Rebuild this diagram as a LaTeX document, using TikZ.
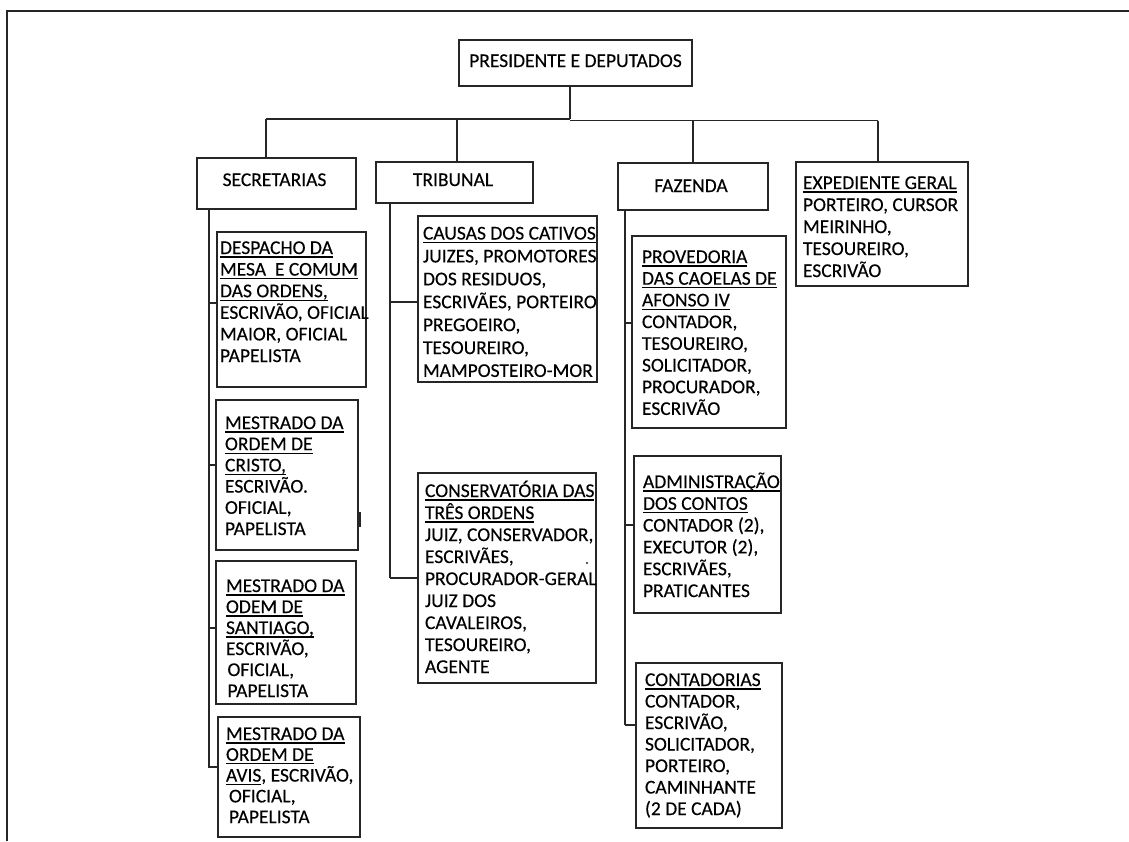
\documentclass[tikz,border=0pt]{standalone}
\usepackage{fontspec}
\setmainfont{Carlito}[FakeBold=0.3]
\newcommand\firstl{\rule{0pt}{18pt}}
\newcommand\ulin[1]{\setbox0\hbox{#1}\rlap{\rule[-3.6pt]{\wd0}{1.2pt}}\box0}
\begin{document}
\begin{tikzpicture}[x=1pt,y=-1pt,
  ln/.style={line width=1.3pt, draw=black!85},
  bx/.style={ln, rectangle, inner sep=0pt, outer sep=0pt, anchor=north west},
  tx/.style={inner sep=0pt, outer sep=0pt, anchor=north west, align=left, text=black},
  ttl/.style={inner sep=0pt, outer sep=0pt, anchor=base, text=black, font=\fontsize{19.5}{22}\selectfont}]
\useasboundingbox (0,0) rectangle (1129,841);
% frame
\draw[ln] (7,841) -- (7,11) -- (1129,11);

% boxes
\node[bx, minimum width=233pt, minimum height=46pt] (pres) at (459,40) {};
\node[bx, minimum width=159pt, minimum height=51pt] (sec) at (197,158) {};
\node[bx, minimum width=157pt, minimum height=41pt] (trib) at (376,162) {};
\node[bx, minimum width=150pt, minimum height=47pt] (faz) at (618,163) {};
\node[bx, minimum width=172pt, minimum height=124pt] (exp) at (796,162) {};
\node[bx, minimum width=149pt, minimum height=155pt] (desp) at (217,232) {};
\node[bx, minimum width=142pt, minimum height=150pt] (cristo) at (216,400) {};
\node[bx, minimum width=140pt, minimum height=143pt] (sant) at (216,561) {};
\node[bx, minimum width=142pt, minimum height=120pt] (avis) at (218,717) {};
\node[bx, minimum width=179pt, minimum height=166pt] (causas) at (418,216) {};
\node[bx, minimum width=178pt, minimum height=210pt] (cons) at (418,473) {};
\node[bx, minimum width=154pt, minimum height=192pt] (prov) at (632,236) {};
\node[bx, minimum width=147pt, minimum height=157pt] (adm) at (634,456) {};
\node[bx, minimum width=146pt, minimum height=165pt] (cont) at (636,663) {};

% titles
\node[ttl] (prest) at (575.5,67) {PRESIDENTE E DEPUTADOS};
\node[ttl] (sect) at (274.5,186) {SECRETARIAS};
\node[ttl] (tribt) at (453,186) {TRIBUNAL};
\node[ttl] (fazt) at (691,192) {FAZENDA};

% texts
\node[tx, font=\fontsize{19.5}{22}\selectfont] (expt) at (803,171)
  {\firstl\ulin{EXPEDIENTE GERAL}\\PORTEIRO, CURSOR\\MEIRINHO,\\TESOUREIRO,\\ESCRIVÃO};
\node[tx, font=\fontsize{19.5}{21.6}\selectfont] (despt) at (220,236)
  {\firstl\ulin{DESPACHO DA}\\\ulin{MESA\ \ E COMUM}\\\ulin{DAS ORDENS,}\\ESCRIVÃO, OFICIAL\\MAIOR, OFICIAL\\PAPELISTA};
\node[tx, font=\fontsize{19.5}{21.2}\selectfont] (cristot) at (225,411)
  {\firstl\ulin{MESTRADO DA}\\\ulin{ORDEM DE}\\\ulin{CRISTO,}\\ESCRIVÃO.\\OFICIAL,\\PAPELISTA};
\node[tx, font=\fontsize{19.5}{21}\selectfont] (santt) at (226,574)
  {\firstl\ulin{MESTRADO DA}\\\ulin{ODEM DE}\\\ulin{SANTIAGO,}\\ESCRIVÃO,\\\hspace{1.5pt}OFICIAL,\\\hspace{1.5pt}PAPELISTA};
\node[tx, font=\fontsize{19.5}{20.8}\selectfont] (avist) at (226,722)
  {\firstl\ulin{MESTRADO DA}\\\ulin{ORDEM DE}\\\ulin{AVIS}, ESCRIVÃO,\\\hspace{3pt}OFICIAL,\\\hspace{3pt}PAPELISTA};
\begin{scope}
\clip (causas.north west) rectangle (causas.south east);
\node[tx, font=\fontsize{19.5}{22.9}\selectfont] (causast) at (423,221.5)
  {\firstl\ulin{CAUSAS DOS CATIVOS}\\JUIZES, PROMOTORES\\DOS RESIDUOS,\\ESCRIVÃES, PORTEIRO\\PREGOEIRO,\\TESOUREIRO,\\MAMPOSTEIRO-MOR};
\end{scope}
\node[tx, font=\fontsize{19.5}{22}\selectfont] (const) at (425,479)
  {\firstl\ulin{CONSERVATÓRIA DAS}\\\ulin{TRÊS ORDENS}\\JUIZ, CONSERVADOR,\\ESCRIVÃES,\\PROCURADOR-GERAL\\JUIZ DOS\\CAVALEIROS,\\TESOUREIRO,\\AGENTE};
\node[tx, font=\fontsize{19.5}{21.7}\selectfont] (provt) at (642,245)
  {\firstl\ulin{PROVEDORIA}\\\ulin{DAS CAOELAS DE}\\\ulin{AFONSO IV}\\CONTADOR,\\TESOUREIRO,\\SOLICITADOR,\\PROCURADOR,\\ESCRIVÃO};
\node[tx, font=\fontsize{19.5}{21.8}\selectfont] (admt) at (643,470)
  {\firstl\ulin{ADMINISTRAÇÃO}\\\ulin{DOS CONTOS}\\CONTADOR (2),\\EXECUTOR (2),\\ESCRIVÃES,\\PRATICANTES};
\node[tx, font=\fontsize{19.5}{21.5}\selectfont] (contt) at (645,668)
  {\firstl\ulin{CONTADORIAS}\\CONTADOR,\\ESCRIVÃO,\\SOLICITADOR,\\PORTEIRO,\\CAMINHANTE\\(2 DE CADA)};

% bus
\coordinate (busL) at (266,119);
\coordinate (busM) at (570,119);
\coordinate (busM2) at (570,120.5);
\coordinate (busR) at (878,120.5);
\coordinate (tribX) at (457,119);
\coordinate (fazX) at (693,120.5);
\draw[ln] (pres.south -| busM) -- (busM);
\draw[ln] (busL) -- (busM);
\draw[ln] (busM2) -- (busR);
\draw[ln] (busL) -- (sec.north -| busL);
\draw[ln] (tribX) -- (trib.north -| tribX);
\draw[ln] (fazX) -- (faz.north -| fazX);
\draw[ln] (busR) -- (exp.north -| busR);

% spines
\coordinate (secSp) at (209,768);
\coordinate (tribSp) at (390,578);
\coordinate (fazSp) at (625,725);
\draw[ln] (sec.south -| secSp) -- (secSp);
\draw[ln] (trib.south -| tribSp) -- (tribSp);
\draw[ln] (faz.south -| fazSp) -- (fazSp);
\draw[ln] (secSp |- 0,303) -- (desp.west |- 0,303);
\draw[ln] (secSp |- 0,465) -- (cristo.west |- 0,465);
\draw[ln] (secSp |- 0,628) -- (sant.west |- 0,628);
\draw[ln] (secSp |- 0,767) -- (avis.west |- 0,767);
\draw[ln] (tribSp |- 0,302) -- (causas.west |- 0,302);
\draw[ln] (tribSp |- 0,578) -- (cons.west |- 0,578);
\draw[ln] (fazSp |- 0,323) -- (prov.west |- 0,323);
\draw[ln] (fazSp |- 0,525) -- (adm.west |- 0,525);
\draw[ln] (fazSp |- 0,725) -- (cont.west |- 0,725);

% small marks
\draw[line width=2.5pt, black!85] ([xshift=2pt]cristo.east |- 0,512) -- ([xshift=2pt]cristo.east |- 0,527);
\fill[black!85] (587,563) circle (1.2pt);
\end{tikzpicture}
\end{document}
